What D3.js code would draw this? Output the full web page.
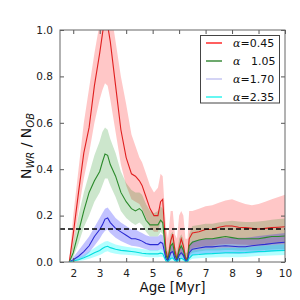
<!DOCTYPE html>
<html><head><meta charset="utf-8">
<script src="https://cdn.jsdelivr.net/npm/d3@7"></script>
<style>body{margin:0;background:#fff}svg{display:block}</style>
</head><body><div id="chart"></div>
<script>
const ages = [1.85,2.0,2.2,2.4,2.6,2.8,3.0,3.1,3.2,3.3,3.4,3.6,3.8,4.0,4.2,4.35,4.5,4.6,4.75,4.9,5.05,5.2,5.3,5.38,5.5,5.58,5.68,5.76,5.84,5.92,6.0,6.08,6.16,6.24,6.32,6.38,6.5,6.75,7.0,7.25,7.5,7.75,8.0,8.25,8.5,8.75,9.0,9.25,9.5,9.75,10.0];

const redMean = [0,0.12,0.3,0.47,0.58,0.76,0.9,0.98,1.06,1.02,0.95,0.76,0.57,0.45,0.38,0.37,0.35,0.33,0.28,0.23,0.2,0.2,0.26,0.27,0.05,0.01,0.09,0.12,0.05,0.01,0.06,0.1,0.07,0.02,0.01,0.1,0.125,0.13,0.14,0.14,0.15,0.155,0.155,0.15,0.148,0.145,0.142,0.145,0.148,0.15,0.152];
const redLow = [0,0.06,0.22,0.36,0.47,0.6,0.7,0.74,0.77,0.76,0.7,0.56,0.42,0.33,0.27,0.26,0.25,0.23,0.19,0.15,0.13,0.13,0.17,0.17,0.01,0,0.03,0.05,0.01,0,0.02,0.04,0.02,0,0,0.04,0.06,0.065,0.07,0.07,0.075,0.078,0.078,0.075,0.074,0.073,0.072,0.074,0.076,0.078,0.08];
const redHigh = [0,0.2,0.4,0.6,0.75,0.9,1.03,1.12,1.2,1.18,1.1,0.95,0.8,0.68,0.55,0.5,0.45,0.43,0.38,0.33,0.3,0.32,0.38,0.37,0.15,0.1,0.22,0.22,0.12,0.1,0.2,0.22,0.2,0.1,0.1,0.22,0.22,0.23,0.24,0.245,0.255,0.265,0.27,0.26,0.25,0.245,0.25,0.26,0.27,0.28,0.29];

const greenMean = [0,0.04,0.13,0.22,0.3,0.35,0.39,0.43,0.465,0.46,0.42,0.37,0.3,0.26,0.23,0.22,0.23,0.22,0.18,0.16,0.16,0.16,0.18,0.17,0.03,0.01,0.07,0.08,0.03,0.01,0.05,0.07,0.05,0.01,0.01,0.07,0.085,0.095,0.1,0.1,0.105,0.11,0.105,0.1,0.1,0.1,0.1,0.105,0.11,0.11,0.112];
const greenLow = [0,0.02,0.08,0.15,0.2,0.26,0.3,0.33,0.36,0.36,0.33,0.28,0.22,0.19,0.17,0.16,0.17,0.16,0.13,0.11,0.11,0.11,0.13,0.12,0.01,0,0.03,0.04,0.01,0,0.02,0.03,0.02,0,0,0.03,0.04,0.045,0.05,0.05,0.05,0.052,0.052,0.05,0.05,0.05,0.05,0.052,0.054,0.055,0.056];
const greenHigh = [0,0.08,0.2,0.3,0.38,0.46,0.52,0.56,0.58,0.57,0.53,0.47,0.39,0.34,0.31,0.3,0.3,0.29,0.25,0.22,0.21,0.22,0.24,0.23,0.07,0.04,0.12,0.13,0.07,0.04,0.1,0.12,0.1,0.04,0.04,0.12,0.155,0.16,0.165,0.165,0.17,0.175,0.178,0.175,0.172,0.172,0.175,0.178,0.182,0.185,0.188];

const blueMean = [0,0.01,0.025,0.045,0.07,0.11,0.14,0.16,0.185,0.19,0.17,0.145,0.13,0.115,0.1,0.1,0.095,0.09,0.08,0.075,0.075,0.075,0.085,0.08,0.015,0.005,0.04,0.045,0.015,0.005,0.03,0.04,0.03,0.005,0.005,0.04,0.055,0.06,0.065,0.065,0.068,0.07,0.068,0.066,0.066,0.07,0.073,0.076,0.08,0.083,0.085];
const blueLow = [0,0.003,0.01,0.02,0.04,0.07,0.1,0.12,0.135,0.14,0.125,0.105,0.09,0.08,0.07,0.068,0.065,0.06,0.055,0.05,0.05,0.05,0.055,0.052,0.005,0,0.015,0.02,0.005,0,0.01,0.015,0.01,0,0,0.015,0.03,0.032,0.035,0.035,0.036,0.037,0.036,0.035,0.036,0.038,0.04,0.042,0.045,0.048,0.05];
const blueHigh = [0,0.02,0.05,0.08,0.11,0.15,0.19,0.21,0.23,0.235,0.22,0.19,0.17,0.155,0.14,0.14,0.13,0.125,0.115,0.11,0.11,0.11,0.12,0.115,0.04,0.02,0.07,0.075,0.04,0.02,0.06,0.07,0.06,0.02,0.02,0.07,0.09,0.095,0.1,0.1,0.102,0.105,0.105,0.104,0.105,0.108,0.112,0.115,0.118,0.122,0.125];

const cyanMean = [0,0.004,0.01,0.018,0.028,0.04,0.05,0.058,0.065,0.068,0.062,0.055,0.05,0.048,0.045,0.043,0.04,0.038,0.036,0.035,0.035,0.035,0.038,0.036,0.005,0.002,0.015,0.018,0.006,0.002,0.012,0.016,0.012,0.002,0.002,0.016,0.03,0.032,0.035,0.036,0.038,0.04,0.04,0.04,0.041,0.043,0.045,0.046,0.048,0.049,0.05];
const cyanLow = [0,0.001,0.004,0.008,0.014,0.022,0.03,0.036,0.043,0.046,0.041,0.036,0.032,0.031,0.029,0.028,0.026,0.024,0.022,0.021,0.021,0.021,0.023,0.022,0.001,0,0.005,0.006,0.001,0,0.003,0.005,0.003,0,0,0.005,0.014,0.016,0.018,0.019,0.02,0.021,0.021,0.021,0.022,0.024,0.026,0.027,0.028,0.029,0.03];
const cyanHigh = [0,0.008,0.02,0.03,0.045,0.06,0.075,0.082,0.088,0.09,0.085,0.075,0.07,0.066,0.062,0.06,0.058,0.056,0.054,0.052,0.052,0.052,0.055,0.054,0.015,0.008,0.03,0.035,0.015,0.008,0.025,0.03,0.025,0.008,0.008,0.03,0.05,0.052,0.055,0.056,0.058,0.06,0.06,0.061,0.063,0.065,0.068,0.07,0.072,0.074,0.075];

const seriesLabels = ["0.45","1.05","1.70","2.35"];
const legendSep = ["=","   ","=","="];
const xTicks = [2,3,4,5,6,7,8,9,10];
const yTicks = [0,0.2,0.4,0.6,0.8,1.0];
const refLevel = 0.142;

const series = [
  {mean: redMean, lo: redLow, hi: redHigh, line: "#e01f1f", band: "#ff0000", bandOp: 0.22, legend: "#ff2a2a"},
  {mean: greenMean, lo: greenLow, hi: greenHigh, line: "#2b8a2b", band: "#008000", bandOp: 0.2, legend: "#3d8c3d"},
  {mean: blueMean, lo: blueLow, hi: blueHigh, line: "#2a2ad2", band: "#0000ff", bandOp: 0.24, legend: "#c6c6f2"},
  {mean: cyanMean, lo: cyanLow, hi: cyanHigh, line: "#00dede", band: "#00ffff", bandOp: 0.3, legend: "#33f5ee"}
];

const W = 300, H = 300;
const m = {left: 60, right: 15, top: 30, bottom: 38};
const svg = d3.select("#chart").append("svg").attr("width", W).attr("height", H)
  .style("font-family", "'DejaVu Sans', sans-serif");

const x = d3.scaleLinear().domain([1.5, 10]).range([m.left, W - m.right]);
const y = d3.scaleLinear().domain([0, 1]).range([H - m.bottom, m.top]);

svg.append("clipPath").attr("id", "clip").append("rect")
  .attr("x", m.left).attr("y", m.top).attr("width", W - m.left - m.right).attr("height", H - m.top - m.bottom);

const plot = svg.append("g").attr("clip-path", "url(#clip)");

const area = d3.area().x((d, i) => x(ages[i])).y0(d => y(d[0])).y1(d => y(d[1]));
const line = d3.line().x((d, i) => x(ages[i])).y(d => y(d));

series.forEach(s => {
  plot.append("path").datum(s.lo.map((v, i) => [v, s.hi[i]]))
    .attr("d", area).attr("fill", s.band).attr("fill-opacity", s.bandOp).attr("stroke", "none");
});
series.forEach(s => {
  plot.append("path").datum(s.mean).attr("d", line)
    .attr("fill", "none").attr("stroke", s.line).attr("stroke-width", 1.1);
});

plot.append("line").attr("x1", x(1.5)).attr("x2", x(10)).attr("y1", y(refLevel)).attr("y2", y(refLevel))
  .attr("stroke", "#000").attr("stroke-width", 1.6).attr("stroke-dasharray", "5,3");

// axes (ticks inward on all four sides)
const tickCol = "#555";
const axB = svg.append("g").attr("transform", `translate(0,${H - m.bottom})`)
  .call(d3.axisBottom(x).tickValues(xTicks).tickSizeInner(-4).tickSizeOuter(0).tickPadding(8).tickFormat(d3.format("d")));
const axT = svg.append("g").attr("transform", `translate(0,${m.top})`)
  .call(d3.axisTop(x).tickValues(xTicks).tickSizeInner(-4).tickSizeOuter(0).tickFormat(""));
const axL = svg.append("g").attr("transform", `translate(${m.left},0)`)
  .call(d3.axisLeft(y).tickValues(yTicks).tickSizeInner(-4).tickSizeOuter(0).tickPadding(7).tickFormat(d3.format(".1f")));
const axR = svg.append("g").attr("transform", `translate(${W - m.right},0)`)
  .call(d3.axisRight(y).tickValues(yTicks).tickSizeInner(-4).tickSizeOuter(0).tickFormat(""));
[axB, axT, axL, axR].forEach(a => {
  a.select(".domain").remove();
  a.selectAll(".tick line").attr("stroke", tickCol);
  a.selectAll("text").attr("fill", "#222").style("font-size", "10.5px").style("font-family", "'DejaVu Sans', sans-serif");
});

svg.append("rect").attr("x", m.left).attr("y", m.top)
  .attr("width", W - m.left - m.right).attr("height", H - m.top - m.bottom)
  .attr("fill", "none").attr("stroke", "#666").attr("stroke-width", 1);

// axis labels
svg.append("text").attr("x", (m.left + W - m.right) / 2).attr("y", 292)
  .attr("text-anchor", "middle").attr("fill", "#111").style("font-size", "13.5px").text("Age [Myr]");

const yl = svg.append("text").attr("transform", `translate(31,${(m.top + H - m.bottom) / 2}) rotate(-90)`)
  .attr("text-anchor", "middle").attr("fill", "#111").style("font-size", "14px");
yl.append("tspan").text("N");
yl.append("tspan").attr("dy", 3).style("font-size", "10px").style("font-style", "italic").text("WR");
yl.append("tspan").attr("dy", -3).text(" / N");
yl.append("tspan").attr("dy", 3).style("font-size", "10px").style("font-style", "italic").text("OB");

// legend
const lg = svg.append("g");
lg.append("rect").attr("x", 200.5).attr("y", 35.5).attr("width", 79).attr("height", 67.5)
  .attr("fill", "#fff").attr("stroke", "#444").attr("stroke-width", 1);
series.forEach((s, i) => {
  const yy = 43 + i * 18;
  lg.append("line").attr("x1", 206).attr("x2", 222).attr("y1", yy).attr("y2", yy)
    .attr("stroke", s.legend).attr("stroke-width", 1.5);
  const t = lg.append("text").attr("x", 233).attr("y", yy + 4).attr("fill", "#111").style("font-size", "11px");
  t.append("tspan").style("font-style", "italic").style("font-family", "'DejaVu Serif', serif").text("α");
  t.append("tspan").attr("xml:space", "preserve").style("white-space", "pre").text(legendSep[i] + seriesLabels[i]);
});
</script>
</body></html>
